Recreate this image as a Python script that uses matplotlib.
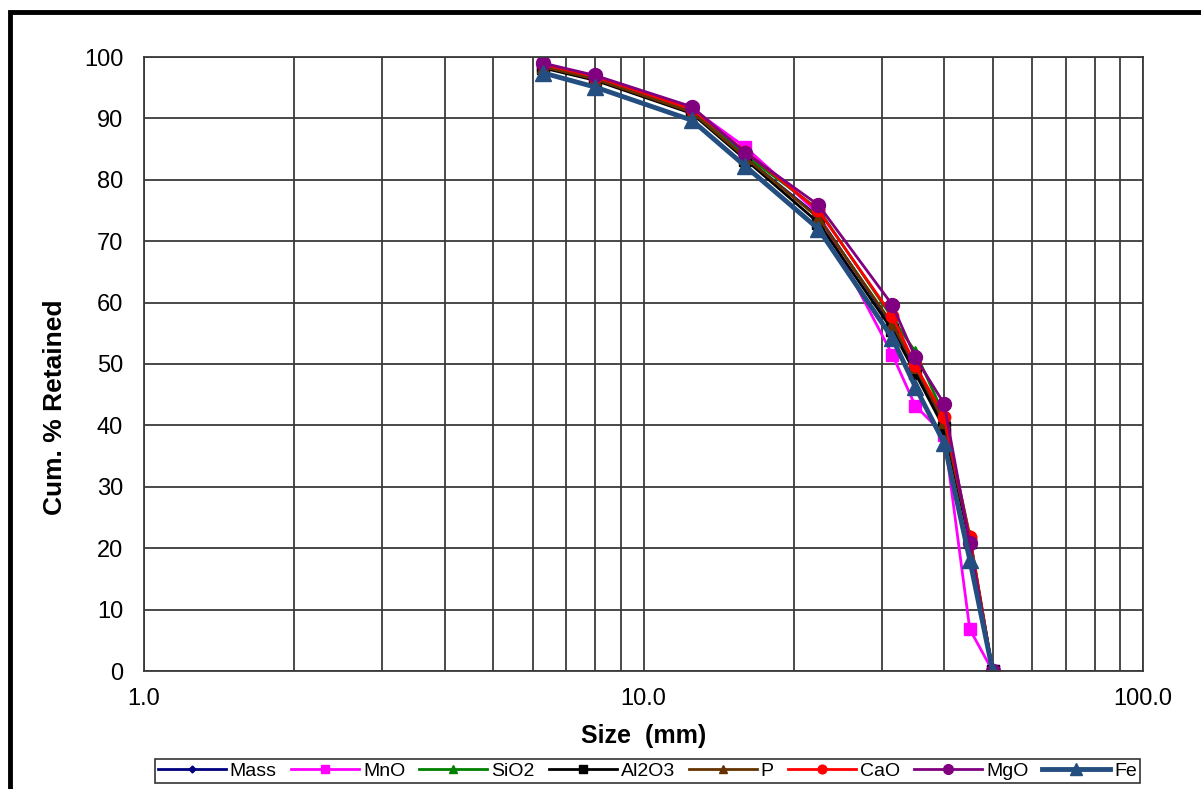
import numpy as np
import matplotlib.pyplot as plt
from matplotlib.ticker import FixedLocator, FormatStrFormatter, MultipleLocator, NullFormatter
from matplotlib.patches import Rectangle

plt.rcParams['font.family'] = ['Liberation Sans', 'DejaVu Sans']

# sieve sizes (mm)
sizes = [6.3, 8.0, 12.5, 16.0, 22.4, 31.5, 35.0, 40.0, 45.0, 50.0]

# cumulative % retained per component
mass = [98.5, 96.5, 91.1, 83.6, 74.0, 56.2, 49.2, 40.2, 21.0, 0.0]
mno = [98.7, 96.7, 91.6, 85.3, 74.5, 51.5, 43.2, 38.5, 6.8, 0.0]
sio2 = [98.6, 96.6, 91.3, 84.0, 75.2, 57.5, 52.0, 41.6, 22.0, 0.0]
al2o3 = [98.2, 96.2, 90.8, 83.3, 73.0, 55.5, 48.5, 39.5, 21.0, 0.0]
p = [98.4, 96.4, 91.0, 83.6, 73.8, 56.5, 49.5, 40.5, 21.5, 0.0]
cao = [98.8, 96.8, 91.5, 84.6, 75.0, 57.8, 49.8, 41.4, 21.8, 0.0]
mgo = [99.0, 97.0, 91.9, 84.4, 75.9, 59.6, 51.1, 43.5, 20.8, 0.0]
fe = [97.4, 95.1, 89.7, 82.2, 72.0, 54.2, 46.3, 37.1, 18.1, 0.0]

x_ticks = [1.0, 10.0, 100.0]

fig = plt.figure(figsize=(12.01, 7.89), dpi=100)
ax = fig.add_axes([144 / 1201, 1 - 671 / 789, (1143 - 144) / 1201, (671 - 57) / 789])

# ---- series ----
ax.plot(sizes, mass, color='#000080', marker='D', ms=5, lw=2, label='Mass')
ax.plot(sizes, mno, color='#FF00FF', marker='s', ms=9, lw=2, label='MnO')
ax.plot(sizes, sio2, color='#008000', marker='^', ms=8, lw=2, label='SiO2')
ax.plot(sizes, al2o3, color='#000000', marker='s', ms=8, lw=2, label='Al2O3')
ax.plot(sizes, p, color='#663300', marker='^', ms=8, lw=2, label='P')
ax.plot(sizes, cao, color='#FF0000', marker='o', ms=9, lw=2, label='CaO')
ax.plot(sizes, mgo, color='#800080', marker='o', ms=10, lw=2, label='MgO')
ax.plot(sizes, fe, color='#234E7F', marker='^', ms=12, lw=3.5, label='Fe')

# ---- axes ----
ax.set_xscale('log')
ax.set_xlim(1, 100)
ax.set_ylim(0, 100)
ax.xaxis.set_major_locator(FixedLocator(x_ticks))
ax.xaxis.set_major_formatter(FormatStrFormatter('%.1f'))
ax.xaxis.set_minor_locator(FixedLocator([v * d for d in (1, 10) for v in range(2, 10)]))
ax.xaxis.set_minor_formatter(NullFormatter())
ax.yaxis.set_major_locator(MultipleLocator(10))

ax.grid(True, which='both', color='#3a3a3a', lw=1.3)
ax.set_axisbelow(True)
for s in ax.spines.values():
    s.set_color('#3a3a3a')
    s.set_linewidth(1.3)

ax.tick_params(which='both', length=0, labelsize=17)
ax.tick_params(axis='y', pad=15)
ax.tick_params(axis='x', pad=12)

ax.set_xlabel('Size  (mm)', fontsize=18, fontweight='bold', labelpad=10)
ax.set_ylabel('Cum. % Retained', fontsize=19, fontweight='bold')
ax.yaxis.set_label_coords(-0.077, 0.43)

# ---- legend ----
leg = fig.legend(loc='center', ncol=8, mode='expand', borderaxespad=0,
                 bbox_to_anchor=(155 / 1201, 1 - 785 / 789, 985 / 1201, 28 / 789),
                 fontsize=14, handlelength=3.5, handletextpad=0.2, columnspacing=1.0,
                 frameon=True, fancybox=False, borderpad=0.15, markerscale=0.7)
leg.get_frame().set_edgecolor('black')
leg.get_frame().set_linewidth(1.2)

# outer chart border (cropped at right/bottom)
fig.patches.append(Rectangle((10 / 1201, -0.5), 2.0, 0.5 + 1 - 11.5 / 789,
                             transform=fig.transFigure, fill=False,
                             edgecolor='black', lw=3.5))

fig.savefig('out.png', dpi=100)
